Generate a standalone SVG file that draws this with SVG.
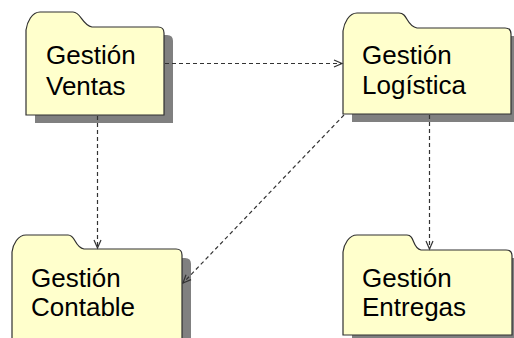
<svg xmlns="http://www.w3.org/2000/svg" width="514" height="338" viewBox="0 0 514 338">
<defs>
<style>
.shadow{fill:#808080;stroke:none}
.folder{fill:#ffffcc;stroke:#303030;stroke-width:1.2}
.lbl{font-family:"Liberation Sans",Arial,sans-serif;font-size:26px;fill:#000}
.dep{fill:none;stroke:#333;stroke-width:1.2;stroke-dasharray:4,3}
</style>
<marker id="open" markerWidth="12" markerHeight="12" refX="10" refY="5" orient="auto" markerUnits="userSpaceOnUse">
<path d="M2,1.5 L10,5 L2,8.5" fill="none" stroke="#333" stroke-width="1.2"/>
</marker>
</defs>
<rect width="514" height="338" fill="#fff"/>
<g id="ventas">
<path class="shadow" d="M35,35 L167,35 Q173,35 173,41 L173,123 L35,123 Z"/>
<path class="folder" d="M26,115 L26,30 C27,22 32,12 40,12 L73,12 C81,12 82,25 92,27 L158,27 Q164,27 164,33 L164,115 Z"/>
<text class="lbl" x="46" y="64">Gestión</text>
<text class="lbl" x="46" y="95">Ventas</text>
</g>
<g id="logistica">
<path class="shadow" d="M352,36 L514,36 L514,122 L352,122 Z"/>
<path class="folder" d="M343,114 L343,31 C344,23 349,13 357,13 L399,13 C408,13 406,26 417,28 L505,28 Q511,28 511,34 L511,114 Z"/>
<text class="lbl" x="362" y="64">Gestión</text>
<text class="lbl" x="362" y="94">Logística</text>
</g>
<g id="contable">
<path class="shadow" d="M21,258 L185,258 Q191,258 191,264 L191,346 L21,346 Z"/>
<path class="folder" d="M12,345 L12,252 C13,244 18,235 26,235 L68,235 C76,235 74,247 84,249 L176,249 Q182,249 182,255 L182,345 Z"/>
<text class="lbl" x="31" y="287">Gestión</text>
<text class="lbl" x="31" y="316">Contable</text>
</g>
<g id="entregas">
<path class="shadow" d="M352,258 L514,258 L514,343 L352,343 Z"/>
<path class="folder" d="M343,335 L343,252 C344,244 349,235 357,235 L407,235 C415,235 412,248 421,250 L506,250 Q512,250 512,256 L512,335 Z"/>
<text class="lbl" x="362" y="287">Gestión</text>
<text class="lbl" x="362" y="316">Entregas</text>
</g>
<g id="connectors">
<line class="dep" x1="165" y1="63.5" x2="342" y2="63.5" marker-end="url(#open)"/>
<line class="dep" x1="97.5" y1="116" x2="97.5" y2="248" marker-end="url(#open)"/>
<line class="dep" x1="429.5" y1="115" x2="429.5" y2="249" marker-end="url(#open)"/>
<line class="dep" x1="344" y1="115" x2="183" y2="283" marker-end="url(#open)"/>
</g>
</svg>
